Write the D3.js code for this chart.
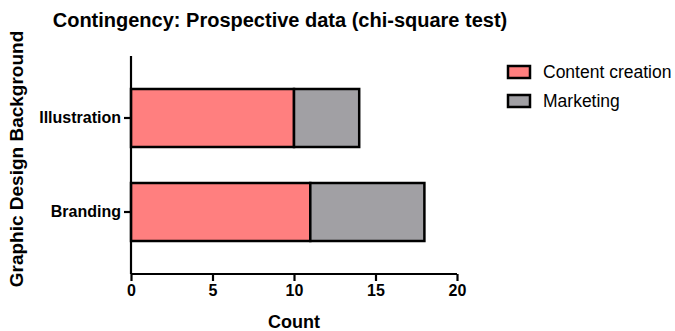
<!DOCTYPE html>
<html>
<head>
<meta charset="utf-8">
<script src="https://cdn.jsdelivr.net/npm/d3@7"></script>
<style>
  body { margin: 0; background: #fff; }
  text { font-family: "Liberation Sans", Arial, sans-serif; }
</style>
</head>
<body>
<svg id="chart"></svg>
<script>
// data
const categories = ['Illustration', 'Branding'];
const seriesNames = ['Content creation', 'Marketing'];
const contentCreation = [10, 11];
const marketing = [4, 7];
const xTicks = [0, 5, 10, 15, 20];
const colors = ['#ff7f7f', '#a1a0a4'];

const width = 675, height = 331;
const margin = {top: 56, right: 218, bottom: 57, left: 131};
const innerW = width - margin.left - margin.right;
const innerH = height - margin.top - margin.bottom;

const svg = d3.select('#chart')
    .attr('width', width)
    .attr('height', height);

const g = svg.append('g')
    .attr('transform', `translate(${margin.left},${margin.top})`);

const rows = categories.map((c, i) => ({
  category: c,
  'Content creation': contentCreation[i],
  'Marketing': marketing[i]
}));
const stacked = d3.stack().keys(seriesNames)(rows);

const xScale = d3.scaleLinear().domain([0, 20]).range([0, innerW]);
const yScale = d3.scaleBand().domain(categories).range([0, innerH])
    .paddingInner(0.383).paddingOuter(0.351);

// bars
g.selectAll('.series')
  .data(stacked)
  .join('g')
    .attr('class', 'series')
    .attr('fill', (d, i) => colors[i])
  .selectAll('rect')
  .data(d => d)
  .join('rect')
    .attr('x', d => xScale(d[0]))
    .attr('y', d => yScale(d.data.category))
    .attr('width', d => xScale(d[1]) - xScale(d[0]))
    .attr('height', yScale.bandwidth())
    .attr('stroke', '#000')
    .attr('stroke-width', 2.5);

// axes
const xAxis = d3.axisBottom(xScale).tickValues(xTicks).tickSize(7).tickSizeOuter(0).tickPadding(4);
const yAxis = d3.axisLeft(yScale).tickSize(7).tickSizeOuter(0).tickPadding(3);

const gx = g.append('g')
    .attr('transform', `translate(0,${innerH})`)
    .call(xAxis);
const gy = g.append('g').call(yAxis);

[gx, gy].forEach(a => {
  a.select('.domain').attr('stroke', '#000').attr('stroke-width', 2.2);
  a.selectAll('.tick line').attr('stroke', '#000').attr('stroke-width', 2.2);
  a.selectAll('.tick text')
      .attr('fill', '#000')
      .style('font-size', '16px')
      .style('font-weight', 'bold');
});
gx.select('.domain').attr('d', `M0,0H${innerW}`);
gy.select('.domain').attr('d', `M0,0V${innerH}`);

// titles
svg.append('text')
    .attr('x', 280)
    .attr('y', 27)
    .attr('text-anchor', 'middle')
    .style('font-size', '20px')
    .style('font-weight', 'bold')
    .text('Contingency: Prospective data (chi-square test)');

svg.append('text')
    .attr('x', margin.left + innerW / 2)
    .attr('y', 328)
    .attr('text-anchor', 'middle')
    .style('font-size', '18px')
    .style('font-weight', 'bold')
    .text('Count');

svg.append('text')
    .attr('transform', `translate(23,${margin.top + innerH / 2 - 6}) rotate(-90)`)
    .attr('text-anchor', 'middle')
    .style('font-size', '19px')
    .style('font-weight', 'bold')
    .text('Graphic Design Background');

// legend
const legend = svg.append('g').attr('transform', 'translate(508,66)');
const items = legend.selectAll('g')
  .data(seriesNames)
  .join('g')
    .attr('transform', (d, i) => `translate(0,${i * 29})`);
items.append('rect')
    .attr('width', 22)
    .attr('height', 12)
    .attr('fill', (d, i) => colors[i])
    .attr('stroke', '#000')
    .attr('stroke-width', 2.5);
items.append('text')
    .attr('x', 35)
    .attr('y', 12)
    .style('font-size', '17.5px')
    .text(d => d);
</script>
</body>
</html>
